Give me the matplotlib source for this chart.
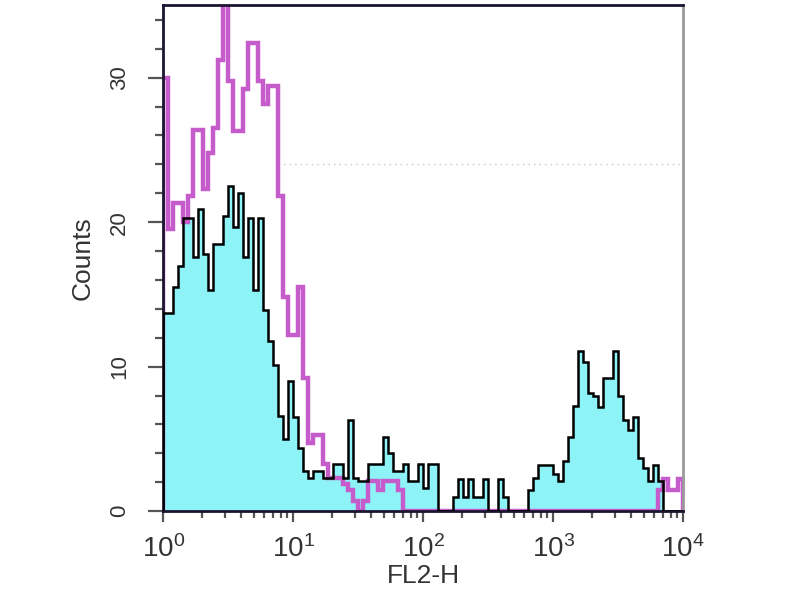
"""Flow cytometry overlay histogram: FL2-H, isotype vs. stained."""

import matplotlib
matplotlib.use("Agg")
import matplotlib.pyplot as plt
import numpy as np
from matplotlib.ticker import FixedLocator, FixedFormatter, MultipleLocator, LogLocator, NullFormatter

# Counts per channel bin (equal log-width bins from 10^0 to 10^4).
n_bins = 104
isotype_counts = [
    30.0, 19.5, 21.3, 21.3, 20.0, 21.8, 26.4, 26.4, 22.3, 24.8,
    26.5, 31.2, 35.5, 29.8, 26.3, 26.3, 29.2, 32.4, 32.4, 29.8,
    28.2, 29.4, 29.4, 21.8, 14.8, 12.2, 12.2, 15.5, 9.2, 4.7,
    5.3, 5.3, 3.3, 2.3, 2.3, 2.3, 1.9, 1.5, 0.7, 0.0,
    0.7, 2.1, 2.1, 1.5, 2.1, 2.1, 2.1, 1.5, 0.0, 0.0,
    0.0, 0.0, 0.0, 0.0, 0.0, 0.0, 0.0, 0.0, 0.0, 0.0,
    0.0, 0.0, 0.0, 0.0, 0.0, 0.0, 0.0, 0.0, 0.0, 0.0,
    0.0, 0.0, 0.0, 0.0, 0.0, 0.0, 0.0, 0.0, 0.0, 0.0,
    0.0, 0.0, 0.0, 0.0, 0.0, 0.0, 0.0, 0.0, 0.0, 0.0,
    0.0, 0.0, 0.0, 0.0, 0.0, 0.0, 0.0, 0.0, 0.0, 1.5,
    2.2, 1.5, 1.5, 2.2,
]
stained_counts = [
    13.7, 13.7, 15.5, 17.0, 20.3, 20.3, 17.6, 20.9, 17.8, 15.3,
    18.5, 18.5, 20.4, 22.5, 19.7, 22.0, 17.6, 20.3, 15.3, 20.3,
    13.9, 11.8, 10.1, 6.6, 5.0, 9.0, 6.5, 4.4, 2.8, 2.3,
    2.8, 2.8, 2.3, 2.3, 3.3, 3.3, 2.3, 6.3, 2.3, 2.1,
    2.1, 3.3, 3.3, 3.3, 5.1, 4.0, 2.8, 2.8, 3.3, 2.1,
    2.1, 3.3, 1.6, 3.3, 3.3, 0.0, 0.0, 0.0, 1.0, 2.2,
    1.0, 2.2, 1.0, 1.0, 2.2, 0.0, 0.0, 2.2, 1.0, 0.0,
    0.0, 0.0, 0.0, 1.5, 2.3, 3.2, 3.2, 3.2, 2.6, 2.1,
    3.5, 5.1, 7.3, 11.1, 10.3, 8.2, 8.0, 7.2, 9.2, 9.2,
    11.1, 8.0, 6.3, 5.6, 6.5, 3.7, 3.0, 2.1, 3.2, 2.1,
    0.0, 0.0, 0.0, 0.0,
]
x_tick_values = [1, 10, 100, 1000, 10000]
x_tick_labels = [r"$\mathregular{10^0}$", r"$\mathregular{10^1}$", r"$\mathregular{10^2}$",
                 r"$\mathregular{10^3}$", r"$\mathregular{10^4}$"]
y_tick_values = [0, 10, 20, 30]

cyan = "#8ef3f7"
magenta = "#c65ccb"
text_col = "#333333"
spine_col = "#1c1430"

plt.rcParams["font.family"] = ["Liberation Sans", "DejaVu Sans"]

fig = plt.figure(figsize=(8, 6), dpi=100)
ax = fig.add_axes([0.204, 0.148, 0.65, 0.843])

edges = np.logspace(0, 4, n_bins + 1)
iso = np.array(isotype_counts)
stn = np.array(stained_counts)

ax.stairs(stn, edges, fill=True, color=cyan, zorder=1)
ax.stairs(iso, edges, color=magenta, linewidth=3.2, zorder=2)
ax.stairs(stn, edges, color="black", linewidth=1.8, zorder=3)

ax.axhline(24, xmin=0.22, xmax=1.0, color="#c8c8c8", linestyle=(0, (1, 3)), linewidth=1.0, zorder=0)

ax.set_xscale("log")
ax.set_xlim(1, 1e4)
ax.set_ylim(0, 35)

ax.xaxis.set_major_locator(FixedLocator(x_tick_values))
ax.xaxis.set_major_formatter(FixedFormatter(x_tick_labels))
ax.xaxis.set_minor_locator(LogLocator(base=10, subs=np.arange(2, 10)))
ax.xaxis.set_minor_formatter(NullFormatter())
ax.yaxis.set_major_locator(FixedLocator(y_tick_values))
ax.yaxis.set_minor_locator(MultipleLocator(2))

ax.tick_params(axis="x", which="major", direction="out", length=8, width=1.6,
               color="#555555", pad=9, labelsize=20, labelcolor=text_col)
ax.tick_params(axis="x", which="minor", direction="out", length=5, width=1.6, color="#555555")
ax.tick_params(axis="y", which="major", direction="out", length=11, width=1.6,
               color="#555555", pad=13, labelsize=16, labelcolor=text_col)
ax.tick_params(axis="y", which="minor", direction="out", length=6, width=1.6, color="#555555")
for lbl in ax.get_yticklabels():
    lbl.set_rotation(90)
    lbl.set_va("center")

for side in ["left", "bottom", "top"]:
    ax.spines[side].set_color(spine_col)
    ax.spines[side].set_linewidth(2.0)
ax.spines["right"].set_color("#9a9a9a")
ax.spines["right"].set_linewidth(2.0)

ax.set_xlabel("FL2-H", fontsize=19, color=text_col, labelpad=1)
ax.set_ylabel("Counts", fontsize=19, color=text_col, labelpad=10)

fig.savefig("out.png", dpi=100)
